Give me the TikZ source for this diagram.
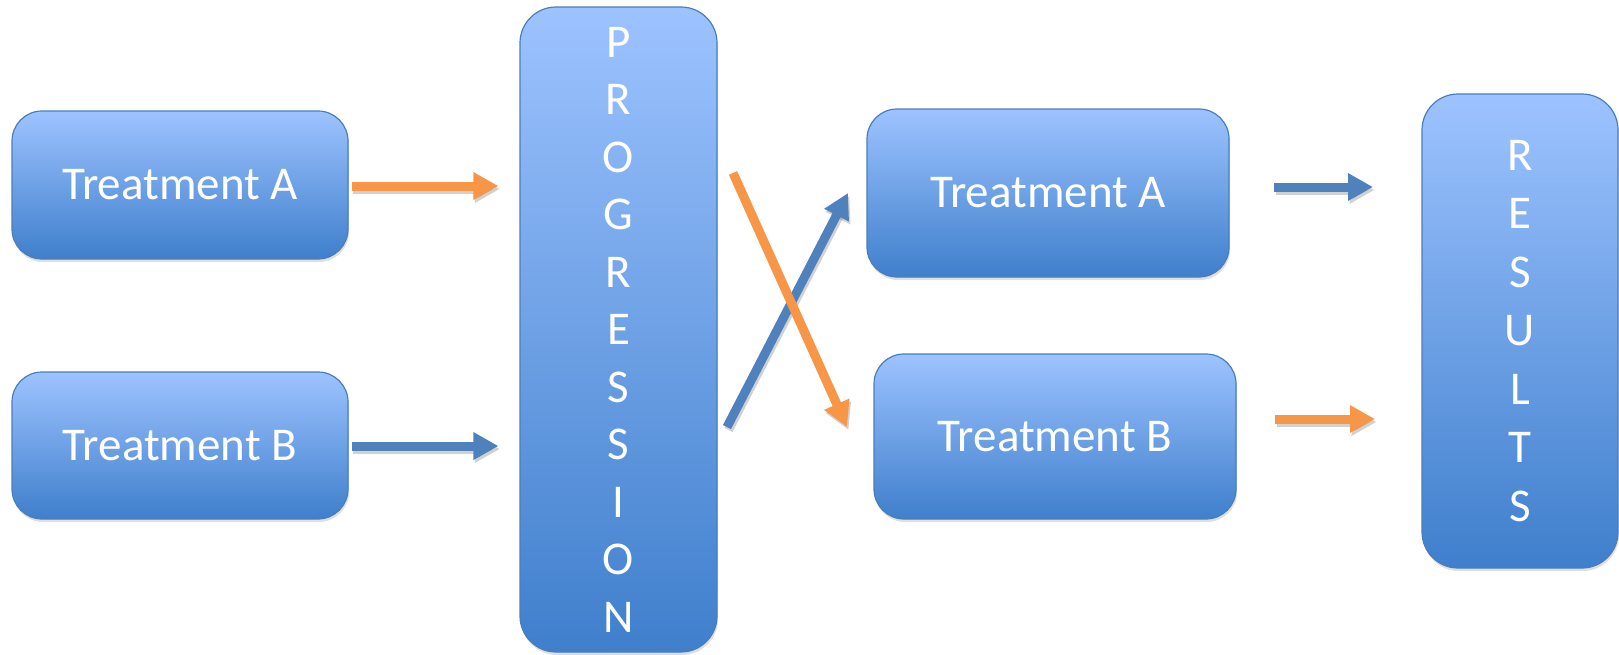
\documentclass[tikz,border=0pt]{standalone}
\usepackage{fontspec}
\setmainfont{Carlito}
\usetikzlibrary{arrows.meta,shadows,calc}
\definecolor{bluetop}{HTML}{9DC3FF}
\definecolor{bluebot}{HTML}{3F7FCC}
\definecolor{bordblue}{HTML}{4A7EBB}
\definecolor{arrorange}{HTML}{F79646}
\definecolor{arrblue}{HTML}{4F81BD}
\begin{document}
\begin{tikzpicture}[x=1pt,y=-1pt,
  box/.style={draw=bordblue, line width=1.2pt, rounded corners=30pt,
    top color=bluetop, bottom color=bluebot, text=white,
    font=\fontsize{47}{57.5}\selectfont, align=center, inner sep=0pt,
    drop shadow={shadow xshift=1pt, shadow yshift=-3pt, opacity=0.25}},
  arr/.style={line width=9pt, -{Triangle[length=25pt,width=26pt]}},
  arrshadow/.style={arr, draw=black, opacity=0.18, transform canvas={xshift=1.5pt, yshift=-3pt}},
  orangearr/.style={arr, draw=arrorange},
  bluearr/.style={arr, draw=arrblue}]
\useasboundingbox (0,0) rectangle (1619,654);

\node[box, minimum width=336pt, minimum height=148pt] (la) at (180,185) {Treatment A};
\node[box, minimum width=336pt, minimum height=147pt] (lb) at (180,445.5) {Treatment B};
\node[box, minimum width=197pt, minimum height=645pt, rounded corners=36pt] (prog) at (618.5,329.5)
  {P\\R\\O\\G\\R\\E\\S\\S\\I\\O\\N};
\node[box, minimum width=362pt, minimum height=168pt] (ra) at (1048,193) {Treatment A};
\node[box, minimum width=362pt, minimum height=165pt] (rb) at (1055,436.5) {Treatment B};
\node[box, minimum width=196pt, minimum height=474pt, rounded corners=36pt,
  font=\fontsize{47}{58.5}\selectfont] (res) at (1520,331)
  {R\\E\\S\\U\\L\\T\\S};

\coordinate (a1s) at ($(la.east)+(3,1)$);
\coordinate (a1e) at ($(prog.west |- la.east)+(-21,1)$);
\coordinate (b1s) at ($(lb.east)+(3,0.5)$);
\coordinate (b1e) at ($(prog.west |- lb.east)+(-21,0.5)$);
\coordinate (os) at (733,173);
\coordinate (oe) at (847,427);
\coordinate (bs) at (727,427);
\coordinate (be) at (848,193);
\coordinate (r1s) at (1274,187);
\coordinate (r1e) at (1373,187);
\coordinate (r2s) at (1275,419);
\coordinate (r2e) at (1375,419);

\foreach \s/\e in {a1s/a1e, b1s/b1e, bs/be, os/oe, r1s/r1e, r2s/r2e}
  \draw[arrshadow] (\s) -- (\e);
\draw[orangearr] (a1s) -- (a1e);
\draw[bluearr] (b1s) -- (b1e);
\draw[bluearr] (bs) -- (be);
\draw[orangearr] (os) -- (oe);
\draw[bluearr] (r1s) -- (r1e);
\draw[orangearr] (r2s) -- (r2e);
\end{tikzpicture}
\end{document}
